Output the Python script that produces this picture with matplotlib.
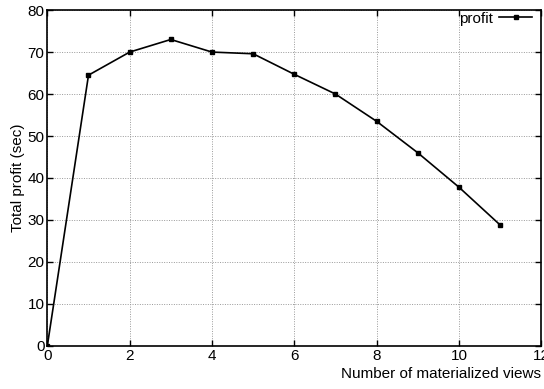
import matplotlib.pyplot as plt
from matplotlib.lines import Line2D

plt.rcParams['font.family'] = ['Liberation Sans', 'DejaVu Sans']
plt.rcParams['font.size'] = 11

views = [0, 1, 2, 3, 4, 5, 6, 7, 8, 9, 10, 11]
profit = [0, 64.5, 70, 73, 70, 69.6, 64.7, 60, 53.5, 46, 37.8, 28.8]

fig = plt.figure(figsize=(5.44, 3.89), dpi=100)
ax = fig.add_axes([0.087, 0.111, 0.908, 0.863])

ax.plot(views, profit, color='black', lw=1.2, marker='s', ms=3.5)

ax.set_xlim(0, 12)
ax.set_ylim(0, 80)
ax.set_xticks(range(0, 13, 2))
ax.set_yticks(range(0, 81, 10))
ax.grid(True, color='#999999', linestyle=(0, (1, 1.5)), lw=0.7)
ax.tick_params(direction='in', top=True, right=True, length=4, width=1, pad=2)
for s in ax.spines.values():
    s.set_linewidth(1.2)

ax.set_ylabel('Total profit (sec)', labelpad=2)
ax.set_xlabel('Number of materialized views', loc='right', labelpad=3)

# gnuplot style key: label then sample
h = Line2D([], [], color='black', lw=1.2, marker='s', ms=3.5)
leg = ax.legend([h], ['profit'], loc='upper right', frameon=False,
                markerfirst=False, handlelength=2.2, borderaxespad=0.0,
                borderpad=0.1, handletextpad=0.4,
                bbox_to_anchor=(0.985, 1.0))

fig.savefig('out.png', dpi=100)
